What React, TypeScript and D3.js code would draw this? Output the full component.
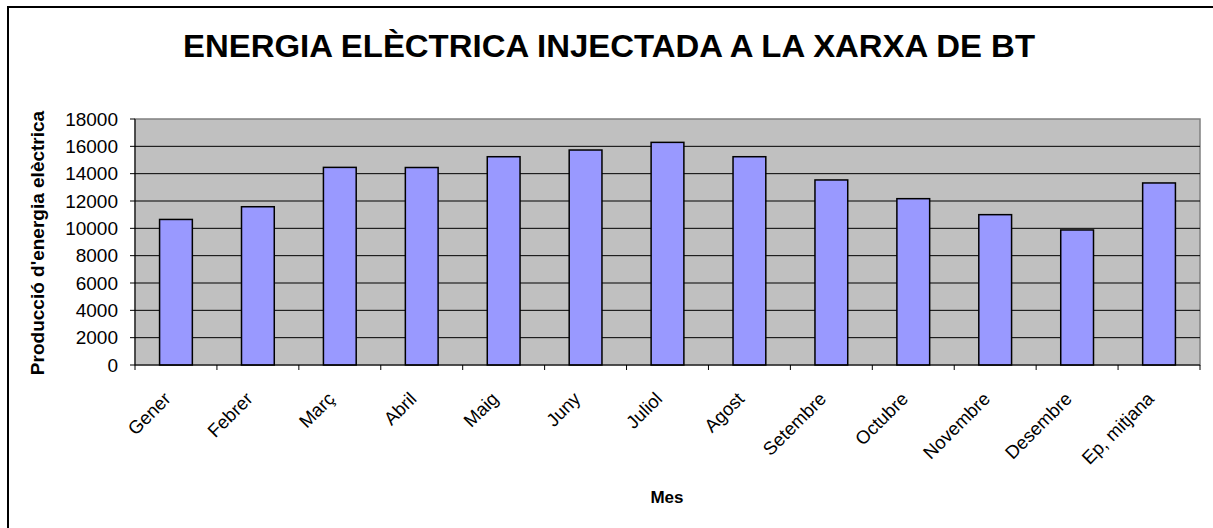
import React from "react";
import * as d3 from "d3";

const months = ["Gener","Febrer","Març","Abril","Maig","Juny","Juliol","Agost","Setembre","Octubre","Novembre","Desembre","Ep, mitjana"];
const production = [10650, 11580, 14460, 14450, 15240, 15730, 16290, 15240, 13540, 12170, 11000, 9880, 13320];
const yTicks = [0, 2000, 4000, 6000, 8000, 10000, 12000, 14000, 16000, 18000];

const W = 1213, H = 528;
const M = { left: 135, right: 1200, top: 119, bottom: 365 };
const FONT = "'Liberation Sans', Arial, sans-serif";

export default function App() {
  const band = d3.scaleBand<string>().domain(months).range([M.left, M.right]).padding(0);
  const y = d3.scaleLinear().domain([0, 18000]).range([M.bottom, M.top]);
  const bw = band.bandwidth() / 2.5;

  return (
    <svg width={W} height={H} style={{ position: "absolute", left: 0, top: 0, background: "#fff" }} fontFamily={FONT}>
      <rect x={8} y={7} width={W + 20} height={H + 20} fill="#fff" stroke="#000" strokeWidth={2} />
      <text x={609} y={57} textAnchor="middle" fontSize={31} fontWeight="bold" textLength={852} lengthAdjust="spacingAndGlyphs">ENERGIA ELÈCTRICA INJECTADA A LA XARXA DE BT</text>
      <rect x={M.left} y={M.top} width={M.right - M.left} height={M.bottom - M.top} fill="#C0C0C0" stroke="#808080" strokeWidth={1.5} />
      {yTicks.filter(t => t > 0 && t < 18000).map(t => (
        <line key={t} x1={M.left} x2={M.right} y1={y(t)} y2={y(t)} stroke="#000" strokeWidth={1} />
      ))}
      {production.map((v, i) => {
        const cx = band(months[i])! + band.bandwidth() / 2;
        return <rect key={i} x={cx - bw / 2} y={y(v)} width={bw} height={y(0) - y(v)} fill="#9999FF" stroke="#000" strokeWidth={1.5} />;
      })}
      <line x1={M.left} x2={M.left} y1={M.top} y2={M.bottom} stroke="#000" strokeWidth={1} />
      <line x1={M.left} x2={M.right} y1={M.bottom} y2={M.bottom} stroke="#000" strokeWidth={1} />
      {yTicks.map(t => (
        <g key={t}>
          <line x1={M.left - 5} x2={M.left} y1={y(t)} y2={y(t)} stroke="#000" />
          <text x={118} y={y(t) + 6.5} textAnchor="end" fontSize={19}>{t}</text>
        </g>
      ))}
      {months.map((m, i) => (
        <line key={"t" + i} x1={band(m)!} x2={band(m)!} y1={M.bottom} y2={M.bottom + 5} stroke="#000" />
      )).concat([<line key="tend" x1={M.right} x2={M.right} y1={M.bottom} y2={M.bottom + 5} stroke="#000" />])}
      {months.map((m, i) => {
        const cx = band(m)! + band.bandwidth() / 2 - 4;
        const cy = M.bottom + 35;
        return <text key={"l" + i} transform={`translate(${cx},${cy}) rotate(-45)`} textAnchor="end" fontSize={18.5}>{m}</text>;
      })}
      <text transform={`translate(44,243) rotate(-90)`} textAnchor="middle" fontSize={19} fontWeight="bold">Producció d'energia elèctrica</text>
      <text x={667} y={503} textAnchor="middle" fontSize={17} fontWeight="bold">Mes</text>
    </svg>
  );
}
